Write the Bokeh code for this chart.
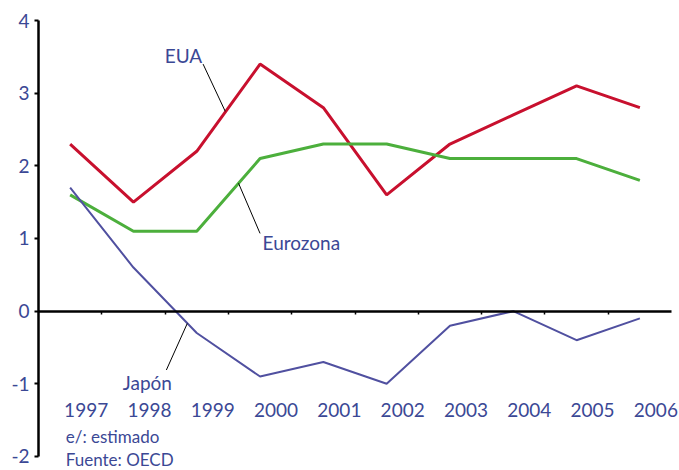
from bokeh.plotting import figure
from bokeh.models import LinearAxis, FixedTicker, Label, ColumnDataSource, Range1d
from bokeh.core.properties import value
from bokeh.embed import file_html
from bokeh.resources import INLINE

years = [1997, 1998, 1999, 2000, 2001, 2002, 2003, 2004, 2005, 2006]
eua = [2.3, 1.5, 2.2, 3.4, 2.8, 1.6, 2.3, 2.7, 3.1, 2.8]
eurozona = [1.6, 1.1, 1.1, 2.1, 2.3, 2.3, 2.1, 2.1, 2.1, 1.8]
japon = [1.7, 0.6, -0.3, -0.9, -0.7, -1.0, -0.2, 0.0, -0.4, -0.1]
y_ticks = [-2, -1, 0, 1, 2, 3, 4]
year_labels = [str(y) for y in years]

TXT = "#3b4895"
FONT = "Lato"

p = figure(width=679, height=470, output_backend="svg", toolbar_location=None,
           x_range=Range1d(1996.5, 2006.626), y_range=Range1d(-2.193, 4),
           x_axis_location=None, y_axis_location=None,
           min_border_left=38, min_border_right=0, min_border_top=20, min_border_bottom=0)
p.grid.visible = False
p.outline_line_color = None
p.background_fill_color = "white"
p.border_fill_color = "white"

# y axis
ya = LinearAxis(ticker=FixedTicker(ticks=y_ticks), bounds=(-2, 4))
ya.major_label_overrides = {t: str(t) for t in y_ticks}
ya.axis_line_width = 2.5
ya.axis_line_color = "black"
ya.major_tick_in = 0
ya.major_tick_out = 4
ya.major_tick_line_width = 2
ya.minor_tick_line_color = None
ya.major_label_text_color = TXT
ya.major_label_text_font = FONT
ya.major_label_text_font_size = "19px"
ya.major_label_standoff = 5
p.add_layout(ya, "left")

# zero line axis
xa = LinearAxis(ticker=FixedTicker(ticks=[y + 0.5 for y in years[:-1]]),
                fixed_location=0, bounds=(1996.5, 2006.5))
xa.axis_line_width = 2.5
xa.axis_line_color = "black"
xa.major_tick_in = 0
xa.major_tick_out = 3
xa.major_tick_line_width = 1.5
xa.minor_tick_line_color = None
xa.major_label_text_font_size = "0px"
xa.major_label_text_color = None
p.add_layout(xa, "below")

src = ColumnDataSource(dict(x=years, eua=eua, ez=eurozona, jp=japon))
p.line("x", "eua", source=src, line_color="#c8102e", line_width=3)
p.line("x", "ez", source=src, line_color="#4caf3c", line_width=3)
p.line("x", "jp", source=src, line_color="#5050a0", line_width=2)

# year labels
p.text(x=years, y=[-1.36] * len(years), text=year_labels, x_offset=16,
       text_align="center", text_baseline="middle", text_color=TXT,
       text_font=value(FONT), text_font_size="19px")

# leader lines
p.segment(x0=[1999.1, 1999.66, 1998.52], y0=[3.40, 1.76, -0.81],
          x1=[1999.45, 2000.0, 1998.85], y1=[2.75, 1.07, -0.17],
          line_color="black", line_width=1)

for txt, x, y, align in [("EUA", 1998.79, 3.52, "center"),
                         ("Eurozona", 2000.04, 0.95, "left"),
                         ("Japón", 1998.22, -0.98, "center")]:
    p.add_layout(Label(x=x, y=y, text=txt, text_align=align, text_baseline="middle",
                       text_color=TXT, text_font=FONT, text_font_size="19px"))

p.add_layout(Label(x=1996.93, y=-1.73, text="e/: estimado", text_align="left",
                   text_baseline="middle", text_color=TXT, text_font=FONT,
                   text_font_size="17px"))
p.add_layout(Label(x=1996.93, y=-2.04, text="Fuente: OECD", text_align="left",
                   text_baseline="middle", text_color=TXT, text_font=FONT,
                   text_font_size="17px"))

open("out.html", "w").write(file_html(p, INLINE))
